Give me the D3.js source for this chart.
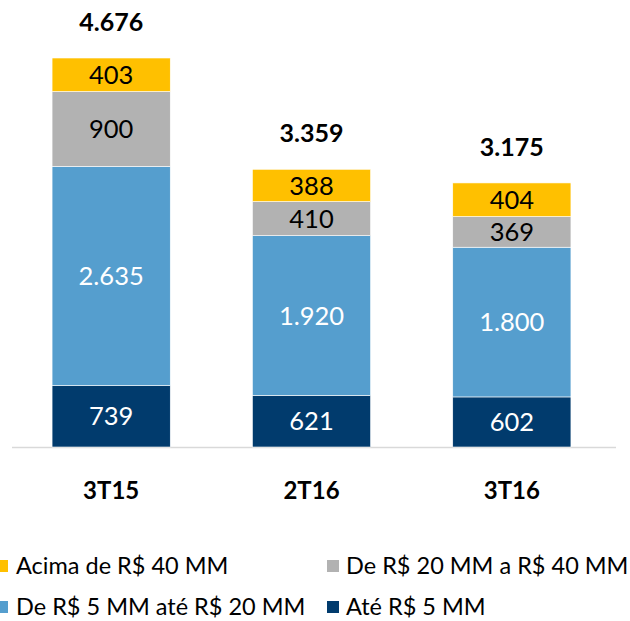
<!DOCTYPE html>
<html>
<head>
<meta charset="utf-8">
<script src="https://cdn.jsdelivr.net/npm/d3@7"></script>
<style>
	body { margin: 0; background: #fff; }
	text { font-family: Lato, "Open Sans", sans-serif; }
</style>
</head>
<body>
<div id="chart"></div>
<script>
// Data
var categories = ["3T15", "2T16", "3T16"];
var seriesNames = ["Até R$ 5 MM", "De R$ 5 MM até R$ 20 MM", "De R$ 20 MM a R$ 40 MM", "Acima de R$ 40 MM"];
var ate5 = [739, 621, 602];
var de5a20 = [2635, 1920, 1800];
var de20a40 = [900, 410, 369];
var acima40 = [403, 388, 404];
var totalLabels = ["4.676", "3.359", "3.175"];

var colors = ["#013B6D", "#559ECE", "#B2B2B2", "#FFC000"];
var labelColors = ["#fff", "#fff", "#000", "#000"];

var width = 630, height = 621;
var fmt = d3.format(",");
function ptNum(v) { return fmt(v).replace(/,/g, "."); }

var svg = d3.select("#chart").append("svg")
		.attr("width", width)
		.attr("height", height);

var x = d3.scaleBand()
		.domain(categories)
		.range([12, 611])
		.paddingInner(0.41)
		.paddingOuter(0.2);

var y = d3.scaleLinear()
		.domain([0, 4677])
		.range([447, 58]);

// Stack rows
var rows = categories.map(function(c, i) {
	return {cat: c, s0: ate5[i], s1: de5a20[i], s2: de20a40[i], s3: acima40[i]};
});
var stack = d3.stack().keys(["s0", "s1", "s2", "s3"]);
var series = stack(rows);

// Baseline
svg.append("line")
		.attr("x1", 12)
		.attr("x2", 616)
		.attr("y1", y(0) + 0.5)
		.attr("y2", y(0) + 0.5)
		.style("stroke", "#d9d9d9")
		.style("stroke-width", 1.5);

var layer = svg.selectAll(".layer")
	.data(series)
	.enter().append("g")
		.attr("class", "layer");

layer.selectAll("rect")
	.data(function(d) { return d; })
	.enter().append("rect")
		.attr("x", function(d) { return x(d.data.cat); })
		.attr("y", function(d) { return y(d[1]); })
		.attr("width", x.bandwidth())
		.attr("height", function(d) { return y(d[0]) - y(d[1]); })
		.style("fill", function(d) { return colors[d3.select(this.parentNode).datum().index]; })
		.style("stroke", "#fff")
		.style("stroke-width", 0.6);

// Segment labels
layer.each(function(s, si) {
	d3.select(this).selectAll(".seg-label")
		.data(s)
		.enter().append("text")
			.attr("class", "seg-label")
			.attr("x", function(d) { return x(d.data.cat) + x.bandwidth() / 2; })
			.attr("y", function(d) { return (y(d[0]) + y(d[1])) / 2; })
			.attr("dy", "0.36em")
			.style("text-anchor", "middle")
			.style("font-size", "25.5px")
			.style("fill", labelColors[si])
			.text(function(d) { return ptNum(d[1] - d[0]); });
});

// Totals
svg.selectAll(".total")
	.data(rows)
	.enter().append("text")
		.attr("class", "total")
		.attr("x", function(d) { return x(d.cat) + x.bandwidth() / 2; })
		.attr("y", function(d) { return y(d.s0 + d.s1 + d.s2 + d.s3) - 36; })
		.attr("dy", "0.36em")
		.style("text-anchor", "middle")
		.style("font-size", "25px")
		.style("font-weight", "bold")
		.text(function(d, i) { return totalLabels[i]; });

// Category axis labels
svg.selectAll(".cat")
	.data(categories)
	.enter().append("text")
		.attr("class", "cat")
		.attr("x", function(d) { return x(d) + x.bandwidth() / 2; })
		.attr("y", 490)
		.attr("dy", "0.36em")
		.style("text-anchor", "middle")
		.style("font-size", "24px")
		.style("font-weight", "bold")
		.text(function(d) { return d; });

// Legend
var legendItems = [
	{name: seriesNames[3], color: colors[3], x: 0, y: 566},
	{name: seriesNames[2], color: colors[2], x: 327, y: 566},
	{name: seriesNames[1], color: colors[1], x: 0, y: 607},
	{name: seriesNames[0], color: colors[0], x: 327, y: 607}
];

var legend = svg.selectAll(".legend")
	.data(legendItems)
	.enter().append("g")
		.attr("class", "legend")
		.attr("transform", function(d) { return "translate(" + d.x + "," + d.y + ")"; });

legend.append("rect")
		.attr("x", function(d) { return d.x === 0 ? -4 : 0; })
		.attr("y", -6)
		.attr("width", 12)
		.attr("height", 12)
		.style("fill", function(d) { return d.color; });

legend.append("text")
		.attr("x", function(d) { return d.x === 0 ? 16 : 19; })
		.attr("dy", "0.36em")
		.style("font-size", "23.5px")
		.text(function(d) { return d.name; });
</script>
</body>
</html>
